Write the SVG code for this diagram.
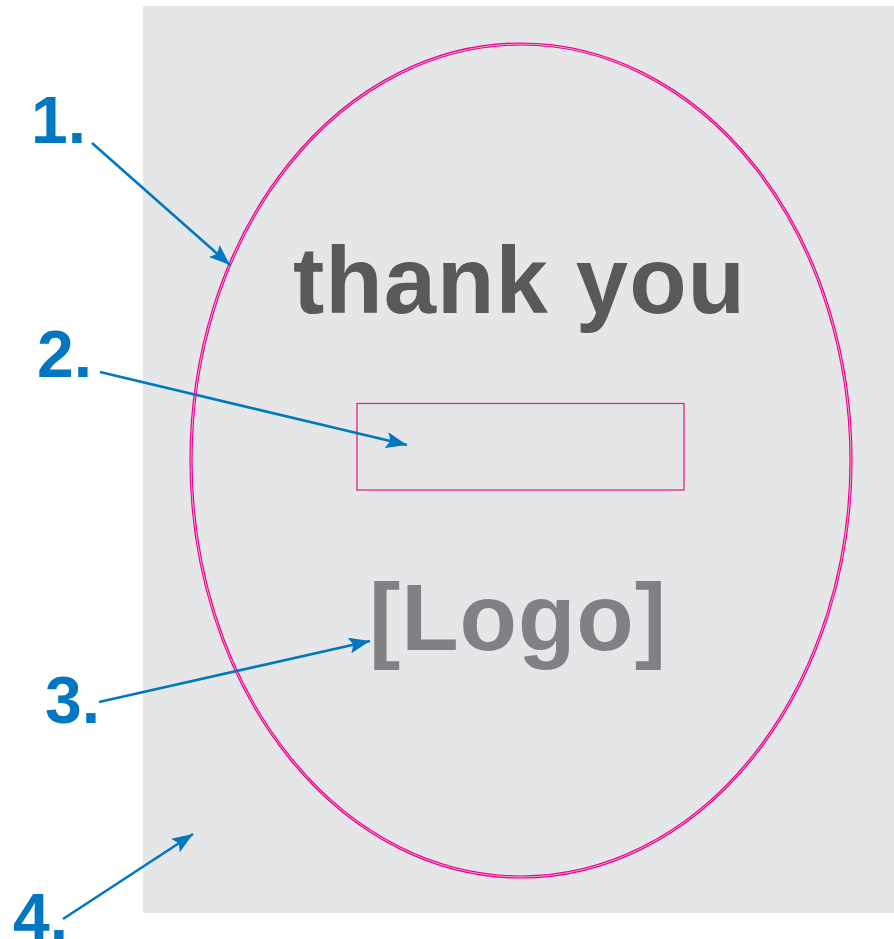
<svg xmlns="http://www.w3.org/2000/svg" width="894" height="939" viewBox="0 0 894 939">
<style>
.lbl{font-family:"Liberation Sans",Arial,sans-serif;font-weight:bold;font-size:66px;fill:#0077c0}
.conn{stroke:#0077c0;stroke-width:2.6;fill:none;marker-end:url(#ah)}
.big{font-family:"Liberation Sans",Arial,sans-serif;font-weight:bold;font-size:94px}
</style>
<defs>
<marker id="ah" markerUnits="userSpaceOnUse" markerWidth="24" markerHeight="16" refX="21" refY="8" orient="auto">
<path d="M0,0 L21,8 L0,16 L4,8 Z" fill="#0077c0"/>
</marker>
</defs>
<rect id="background" x="143" y="6" width="751" height="907" fill="#e5e6e8"/>
<g id="oval">
<ellipse cx="521" cy="460.5" rx="330" ry="416.5" fill="none" stroke="#ec008c" stroke-width="3.2"/>
<ellipse cx="521" cy="460.5" rx="330" ry="416.5" fill="none" stroke="#f0b8d6" stroke-width="0.9"/>
</g>
<g id="thank-you"><text class="big" x="293" y="313" fill="#58595b" textLength="452" lengthAdjust="spacing">thank you</text></g>
<g id="box"><rect x="357" y="403.5" width="327" height="86.5" fill="none" stroke="#e6238f" stroke-width="1.3"/></g>
<g id="logo"><text class="big" x="369" y="650" font-size="95" fill="#808184" textLength="297" lengthAdjust="spacing">[Logo]</text></g>
<g id="label-1"><text class="lbl" x="31" y="143">1.</text></g>
<g id="label-2"><text class="lbl" x="37" y="377">2.</text></g>
<g id="label-3"><text class="lbl" x="45" y="723">3.</text></g>
<g id="label-4"><text class="lbl" x="13" y="940">4.</text></g>
<g id="connectors">
<line class="conn" x1="92" y1="143" x2="230" y2="265"/>
<line class="conn" x1="100" y1="372" x2="407" y2="445"/>
<line class="conn" x1="99" y1="702" x2="370" y2="641"/>
<line class="conn" x1="63" y1="919" x2="193" y2="834"/>
</g>
</svg>
